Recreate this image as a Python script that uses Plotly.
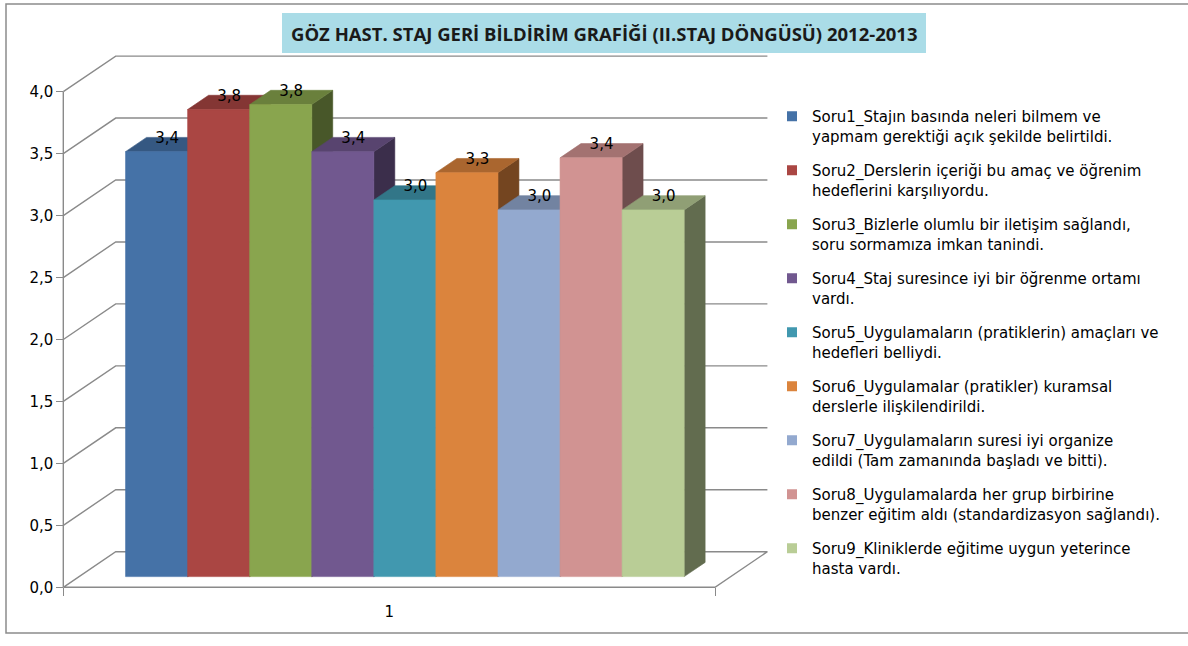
import plotly.graph_objects as go

# ---- data -------------------------------------------------------------
category = "1"
questions = [
    "Soru1_Stajın basında neleri bilmem ve<br>yapmam gerektiği açık şekilde belirtildi.",
    "Soru2_Derslerin içeriği bu amaç ve öğrenim<br>hedeflerini karşılıyordu.",
    "Soru3_Bizlerle olumlu bir iletişim sağlandı,<br>soru sormamıza imkan tanindi.",
    "Soru4_Staj suresince iyi bir öğrenme ortamı<br>vardı.",
    "Soru5_Uygulamaların (pratiklerin) amaçları ve<br>hedefleri belliydi.",
    "Soru6_Uygulamalar (pratikler) kuramsal<br>derslerle ilişkilendirildi.",
    "Soru7_Uygulamaların suresi iyi organize<br>edildi (Tam zamanında başladı ve bitti).",
    "Soru8_Uygulamalarda her grup birbirine<br>benzer eğitim aldı (standardizasyon sağlandı).",
    "Soru9_Kliniklerde eğitime uygun yeterince<br>hasta vardı.",
]
scores = [3.43, 3.77, 3.81, 3.43, 3.04, 3.26, 2.96, 3.38, 2.96]
colors = ["#4572A7", "#AA4643", "#89A54E", "#71588F", "#4198AF",
          "#DB843D", "#93A9CF", "#D19392", "#B9CD96"]
y_ticks = [0.0, 0.5, 1.0, 1.5, 2.0, 2.5, 3.0, 3.5, 4.0]
title = "GÖZ HAST. STAJ GERİ BİLDİRİM GRAFİĞİ (II.STAJ DÖNGÜSÜ) 2012-2013"

# ---- geometry of the pseudo-3D box ------------------------------------
W, H = 1188, 646
PX_X = 651.7          # pixels per category unit
PX_Y = 123.9          # pixels per value unit
X0_PX, Y0_PX = 63.3, 587.3   # front corner of the floor
X_RANGE = [-0.5 - X0_PX / PX_X, -0.5 + (W - X0_PX) / PX_X]
Y_RANGE = [-(H - Y0_PX) / PX_Y, Y0_PX / PX_Y]
DX = 52.4 / PX_X      # full depth shift, category units
DY = 35.6 / PX_Y      # full depth shift, value units
GAP = 1.5             # gap width (fraction of a bar)
N = len(scores)
BW = 1.0 / (N + GAP)  # bar width
F_FRONT, F_BACK = 0.3, 0.7   # depth of bar front / back planes
Y_MAX = y_ticks[-1]

GRID = "#8a8a8a"
TEXT = "#000000"
FONT = "DejaVu Sans"
TITLE_FONT = "Open Sans"


def shade(hex_color, k):
    r, g, b = (int(hex_color[i:i + 2], 16) for i in (1, 3, 5))
    return "rgb({},{},{})".format(int(r * k), int(g * k), int(b * k))


fig = go.Figure()

# walls: gridlines on the side wall and the back wall
for v in y_ticks:
    xs = [-0.5, -0.5 + DX, 0.5 + DX]
    ys = [v, v + DY, v + DY]
    if v == 0:
        xs += [0.5, -0.5]
        ys += [0, 0]
    fig.add_trace(go.Scatter(x=xs, y=ys, mode="lines", hoverinfo="skip",
                             line=dict(color=GRID, width=1.4), showlegend=False))
# front value axis line
fig.add_trace(go.Scatter(x=[-0.5, -0.5], y=[0, Y_MAX], mode="lines", hoverinfo="skip",
                         line=dict(color=GRID, width=1.4), showlegend=False))


def face(xs, ys, color):
    fig.add_trace(go.Scatter(x=xs + [xs[0]], y=ys + [ys[0]], mode="lines", fill="toself",
                             fillcolor=color, line=dict(color=color, width=0.6),
                             hoverinfo="skip", showlegend=False))


# bars, drawn left to right: side, top, front
ox, oy = F_FRONT * DX, F_FRONT * DY
bx, by = (F_BACK - F_FRONT) * DX, (F_BACK - F_FRONT) * DY
label_x, label_y, label_t = [], [], []
for i, (v, c) in enumerate(zip(scores, colors)):
    xl = -0.5 + GAP / 2 * BW + i * BW + ox
    xr = xl + BW
    face([xr, xr + bx, xr + bx, xr], [oy, oy + by, v + oy + by, v + oy], shade(c, 0.53))
    face([xl, xr, xr + bx, xl + bx], [v + oy, v + oy, v + oy + by, v + oy + by], shade(c, 0.78))
    face([xl, xr, xr, xl], [oy, oy, v + oy, v + oy], c)
    label_x.append((xl + xr) / 2 + bx / 2)
    label_y.append(v + oy + by / 2 + 5.5 / PX_Y)
    label_t.append("{:.1f}".format(v).replace(".", ","))

fig.add_trace(go.Scatter(x=label_x, y=label_y, text=label_t, mode="text",
                         textposition="middle center", cliponaxis=False,
                         textfont=dict(family=FONT, size=15, color=TEXT),
                         hoverinfo="skip", showlegend=False))

# legend entries
for i, (name, c) in enumerate(zip(questions, colors)):
    fig.add_trace(go.Scatter(x=[None], y=[None], mode="markers", name=name,
                             legendgroup="q{}".format(i),
                             marker=dict(symbol="square", size=10, color=c)))

# title box
fig.add_shape(type="rect", xref="paper", yref="paper",
              x0=282 / W, x1=926 / W, y0=1 - 53 / H, y1=1 - 13 / H,
              fillcolor="#aadce7", line=dict(width=0), layer="below")
fig.add_annotation(xref="paper", yref="paper", x=604 / W, y=1 - 33 / H,
                   text="<b>" + title + "</b>", showarrow=False,
                   xanchor="center", yanchor="middle",
                   font=dict(family=TITLE_FONT, size=18.5, color="#1a1a1a"))
# outer chart border
fig.add_shape(type="rect", xref="paper", yref="paper",
              x0=6 / W, x1=1.01, y0=1 - 633 / H, y1=1 - 4 / H,
              line=dict(color="#8c8c8c", width=1.5), fillcolor="rgba(0,0,0,0)")

fig.update_layout(
    width=W, height=H, autosize=False,
    margin=dict(l=0, r=0, t=0, b=0),
    paper_bgcolor="white", plot_bgcolor="white",
    separators=",.",
    font=dict(family=FONT, size=15, color=TEXT),
    showlegend=True,
    legend=dict(x=772 / W, y=1 - 100 / H, xanchor="left", yanchor="top",
                bgcolor="rgba(0,0,0,0)", borderwidth=0, valign="top",
                traceorder="grouped", tracegroupgap=12,
                font=dict(family=FONT, size=15, color=TEXT)),
    xaxis=dict(range=X_RANGE, anchor="free", position=(H - Y0_PX) / H,
               showgrid=False, zeroline=False, showline=False,
               tickvals=[0], ticktext=[category], ticks="", ticklabelstandoff=14,
               tickfont=dict(family=FONT, size=15, color=TEXT),
               minor=dict(tickvals=[-0.5, 0.5], ticks="outside", ticklen=8,
                          tickcolor=GRID, tickwidth=1.4),
               fixedrange=True),
    yaxis=dict(range=Y_RANGE, anchor="free", position=X0_PX / W,
               showgrid=False, zeroline=False, showline=False,
               tickvals=y_ticks, tickformat=".1f", ticks="outside", ticklen=7,
               tickcolor=GRID, tickwidth=1.4,
               tickfont=dict(family=FONT, size=15, color=TEXT),
               fixedrange=True),
)

fig.write_html("out.html")
